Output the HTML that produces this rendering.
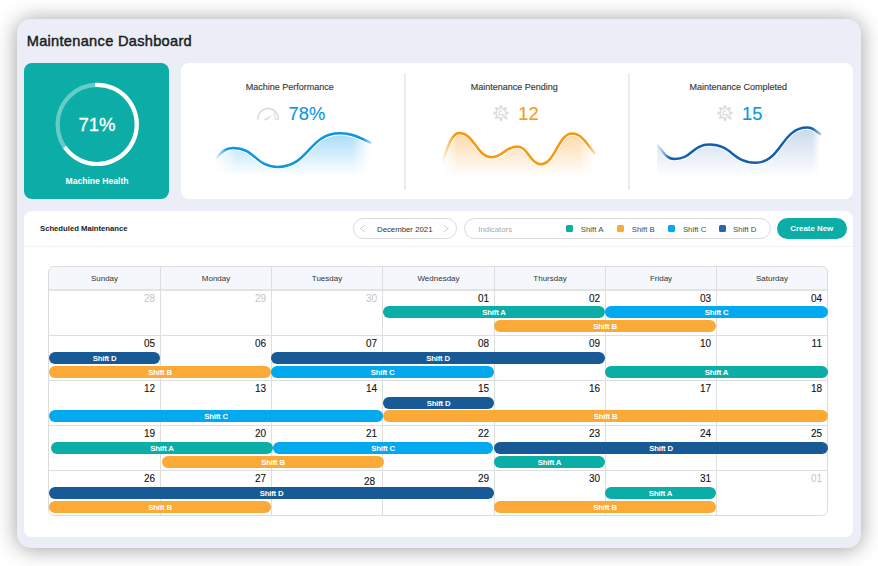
<!DOCTYPE html>
<html><head><meta charset="utf-8"><title>Maintenance Dashboard</title>
<style>
*{box-sizing:border-box;margin:0;padding:0}
html,body{width:878px;height:566px;overflow:hidden;background:#fff}
body{position:relative;font-family:"Liberation Sans",sans-serif;color:#222}
.a{position:absolute}
.outer{left:17px;top:19px;width:844px;height:529px;background:#ebeef7;border-radius:14px;box-shadow:0 1px 21px rgba(0,0,0,.39)}
.title{left:26.7px;top:33px;font-size:14.6px;line-height:17px;letter-spacing:.3px;font-weight:normal;-webkit-text-stroke:.45px #1c1c1c;color:#1c1c1c;white-space:nowrap}
.health{left:24px;top:63px;width:145px;height:136px;background:#0bada6;border-radius:8px}
.stats{left:181px;top:63px;width:672px;height:136px;background:#fff;border-radius:8px}
.dv{top:73px;width:1.5px;height:117px;background:#ececec}
.st{font-size:9px;line-height:11px;color:#3a3a3a;-webkit-text-stroke:.15px #3a3a3a;white-space:nowrap;text-align:center;width:224px;top:82px}
.num{font-size:18.3px;line-height:20px;white-space:nowrap;top:103.5px}
.cal{left:24px;top:211px;width:829px;height:326px;background:#fff;border-radius:8px}
.sm{left:40px;top:223.5px;font-size:7.7px;line-height:9px;font-weight:bold;color:#222;white-space:nowrap}
.pill{border:1px solid #d9d9d9;border-radius:11px;height:20.5px;top:218.2px;background:#fff}
.sep{left:24px;top:245.6px;width:829px;height:1.4px;background:#f4f4f4}
.lg{font-size:7.8px;line-height:9px;color:#4a4a4a;white-space:nowrap;top:224.5px}
.sq{width:7.3px;height:7.3px;top:224.7px;border-radius:1.5px}.sq.D{background:#2468b0}
.btn{left:777px;top:218px;width:69.5px;height:21px;background:#0bada6;border-radius:11px;color:#fff;font-weight:bold;font-size:7.9px;text-align:center;line-height:21px;white-space:nowrap}
.grid{border:1px solid #dcdcdc;border-radius:6px}
.hd{background:#f4f7fc;border-radius:6px 6px 0 0}
.vl{width:1px;background:#dedede}
.hl{height:1px;background:#dedede}
.dn{font-size:8px;line-height:9px;color:#353535;text-align:center;width:111.26px;top:274.3px;white-space:nowrap}
.d{font-size:10px;line-height:11px;color:#111;-webkit-text-stroke:0.1px #111;text-align:right;width:100px;white-space:nowrap}
.d.g{color:#c3c3c3;-webkit-text-stroke:0}
.bar{height:12px;border-radius:6px;color:#fff;font-weight:bold;font-size:7.8px;letter-spacing:-.2px;text-align:center;line-height:13.6px;white-space:nowrap;overflow:hidden}
.A{background:#0baea7}.B{background:#fbaa38}.C{background:#03a9ee}.D{background:#175a96}
</style></head><body>
<div class="a outer"></div>
<div class="a title">Maintenance Dashboard</div>
<div class="a health"></div>
<svg class="a" style="left:0;top:0" width="878" height="566" viewBox="0 0 878 566">
<circle cx="97.2" cy="124.4" r="39.6" fill="none" stroke="rgba(255,255,255,.38)" stroke-width="4.2"/>
<path d="M95.13,84.85 A39.6,39.6 0 1 1 64.76,147.11" fill="none" stroke="#fff" stroke-width="4.2"/>
</svg>
<div class="a" style="left:57px;top:115px;width:80px;text-align:center;color:#fff;font-size:18.6px;line-height:20px;white-space:nowrap;-webkit-text-stroke:.3px #fff">71%</div>
<div class="a" style="left:46px;top:175.5px;width:102px;text-align:center;color:#fff;font-size:8.6px;line-height:10px;font-weight:bold;white-space:nowrap">Machine Health</div>
<div class="a stats"></div>
<div class="a dv" style="left:404.2px"></div>
<div class="a dv" style="left:628.2px"></div>
<div class="a st" style="left:177.7px">Machine Performance</div>
<div class="a st" style="left:402.2px">Maintenance Pending</div>
<div class="a st" style="left:626.2px">Maintenance Completed</div>
<div class="a num" style="left:288.6px;color:#0d97df;-webkit-text-stroke:.15px #0d97df">78%</div>
<div class="a num" style="left:518.3px;color:#f59d14;-webkit-text-stroke:.15px #f59d14">12</div>
<div class="a num" style="left:742px;color:#0d97df;-webkit-text-stroke:.15px #0d97df">15</div>
<svg class="a" style="left:0;top:0" width="878" height="566" viewBox="0 0 878 566"><defs>
<linearGradient id="c1v" gradientUnits="userSpaceOnUse" x1="0" y1="133.2" x2="0" y2="176"><stop offset="0" stop-color="#86cdf4" stop-opacity="0.72"/><stop offset=".55" stop-color="#86cdf4" stop-opacity="0.32"/><stop offset="1" stop-color="#86cdf4" stop-opacity="0"/></linearGradient>
<linearGradient id="c1h" gradientUnits="userSpaceOnUse" x1="215" y1="0" x2="370.4" y2="0"><stop offset="0" stop-color="#fff" stop-opacity="0"/><stop offset="0.14" stop-color="#fff" stop-opacity="1"/><stop offset="0.88" stop-color="#fff" stop-opacity="1"/><stop offset="1" stop-color="#fff" stop-opacity="0"/></linearGradient>
<mask id="c1m" maskUnits="userSpaceOnUse" x="212" y="120" width="161.39999999999998" height="70"><rect x="212" y="120" width="161.39999999999998" height="70" fill="url(#c1h)"/></mask>
<linearGradient id="c1l" gradientUnits="userSpaceOnUse" x1="215" y1="0" x2="370.4" y2="0"><stop offset="0" stop-color="#fff" stop-opacity="0"/><stop offset=".08" stop-color="#fff" stop-opacity="1"/><stop offset=".95" stop-color="#fff" stop-opacity="1"/><stop offset="1" stop-color="#fff" stop-opacity=".35"/></linearGradient>
<mask id="c1k" maskUnits="userSpaceOnUse" x="212" y="120" width="161.39999999999998" height="70"><rect x="212" y="120" width="161.39999999999998" height="70" fill="url(#c1l)"/></mask>
<linearGradient id="c2v" gradientUnits="userSpaceOnUse" x1="0" y1="132.9" x2="0" y2="177"><stop offset="0" stop-color="#fbcf93" stop-opacity="0.8"/><stop offset=".55" stop-color="#fbcf93" stop-opacity="0.36"/><stop offset="1" stop-color="#fbcf93" stop-opacity="0"/></linearGradient>
<linearGradient id="c2h" gradientUnits="userSpaceOnUse" x1="442" y1="0" x2="594.4" y2="0"><stop offset="0" stop-color="#fff" stop-opacity="0"/><stop offset="0.1" stop-color="#fff" stop-opacity="1"/><stop offset="0.9" stop-color="#fff" stop-opacity="1"/><stop offset="1" stop-color="#fff" stop-opacity="0"/></linearGradient>
<mask id="c2m" maskUnits="userSpaceOnUse" x="439" y="120" width="158.39999999999998" height="70"><rect x="439" y="120" width="158.39999999999998" height="70" fill="url(#c2h)"/></mask>
<linearGradient id="c2l" gradientUnits="userSpaceOnUse" x1="442" y1="0" x2="594.4" y2="0"><stop offset="0" stop-color="#fff" stop-opacity="0"/><stop offset=".08" stop-color="#fff" stop-opacity="1"/><stop offset=".95" stop-color="#fff" stop-opacity="1"/><stop offset="1" stop-color="#fff" stop-opacity=".35"/></linearGradient>
<mask id="c2k" maskUnits="userSpaceOnUse" x="439" y="120" width="158.39999999999998" height="70"><rect x="439" y="120" width="158.39999999999998" height="70" fill="url(#c2l)"/></mask>
<linearGradient id="c3v" gradientUnits="userSpaceOnUse" x1="0" y1="127.6" x2="0" y2="177"><stop offset="0" stop-color="#b3cae3" stop-opacity="0.72"/><stop offset=".55" stop-color="#b3cae3" stop-opacity="0.32"/><stop offset="1" stop-color="#b3cae3" stop-opacity="0"/></linearGradient>
<linearGradient id="c3h" gradientUnits="userSpaceOnUse" x1="657.2" y1="0" x2="820.2" y2="0"><stop offset="0" stop-color="#fff" stop-opacity="1"/><stop offset="0.0" stop-color="#fff" stop-opacity="1"/><stop offset="0.95" stop-color="#fff" stop-opacity="1"/><stop offset="1" stop-color="#fff" stop-opacity="0"/></linearGradient>
<mask id="c3m" maskUnits="userSpaceOnUse" x="654.2" y="120" width="169.0" height="70"><rect x="654.2" y="120" width="169.0" height="70" fill="url(#c3h)"/></mask>
<linearGradient id="c3l" gradientUnits="userSpaceOnUse" x1="657.2" y1="0" x2="820.2" y2="0"><stop offset="0" stop-color="#fff" stop-opacity="0"/><stop offset=".08" stop-color="#fff" stop-opacity="1"/><stop offset=".95" stop-color="#fff" stop-opacity="1"/><stop offset="1" stop-color="#fff" stop-opacity=".35"/></linearGradient>
<mask id="c3k" maskUnits="userSpaceOnUse" x="654.2" y="120" width="169.0" height="70"><rect x="654.2" y="120" width="169.0" height="70" fill="url(#c3l)"/></mask>
</defs>
<path d="M215,158.9 C220.37,153.95 223.95,147.9 232.9,147.9 C255.25,147.9 255.25,166.9 277.6,166.9 C308.8,166.9 308.8,133.2 340,133.2 C355.2,133.2 361.28,139.25 370.4,142.5 L370.4,178 L215,178 Z" fill="url(#c1v)" mask="url(#c1m)"/>
<path d="M215,158.9 C220.37,153.95 223.95,147.9 232.9,147.9 C255.25,147.9 255.25,166.9 277.6,166.9 C308.8,166.9 308.8,133.2 340,133.2 C355.2,133.2 361.28,139.25 370.4,142.5" fill="none" stroke="#fff" stroke-width="4.4" mask="url(#c1k)"/>
<path d="M215,158.9 C220.37,153.95 223.95,147.9 232.9,147.9 C255.25,147.9 255.25,166.9 277.6,166.9 C308.8,166.9 308.8,133.2 340,133.2 C355.2,133.2 361.28,139.25 370.4,142.5" fill="none" stroke="#0b96df" stroke-width="2.5" stroke-linecap="round" mask="url(#c1k)"/>
<path d="M442,162.9 C446.64,149.4 451.46,132.9 459.2,132.9 C473.78,132.9 477.02,157.3 491.6,157.3 C503.03,157.3 505.57,146.4 517,146.4 C527.75,146.4 530.14,164.2 540.9,164.2 C554.99,164.2 558.12,133.6 572.2,133.6 C582.19,133.6 588.41,146.15 594.4,152.9 L594.4,179 L442,179 Z" fill="url(#c2v)" mask="url(#c2m)"/>
<path d="M442,162.9 C446.64,149.4 451.46,132.9 459.2,132.9 C473.78,132.9 477.02,157.3 491.6,157.3 C503.03,157.3 505.57,146.4 517,146.4 C527.75,146.4 530.14,164.2 540.9,164.2 C554.99,164.2 558.12,133.6 572.2,133.6 C582.19,133.6 588.41,146.15 594.4,152.9" fill="none" stroke="#fff" stroke-width="4.4" mask="url(#c2k)"/>
<path d="M442,162.9 C446.64,149.4 451.46,132.9 459.2,132.9 C473.78,132.9 477.02,157.3 491.6,157.3 C503.03,157.3 505.57,146.4 517,146.4 C527.75,146.4 530.14,164.2 540.9,164.2 C554.99,164.2 558.12,133.6 572.2,133.6 C582.19,133.6 588.41,146.15 594.4,152.9" fill="none" stroke="#f7990c" stroke-width="2.5" stroke-linecap="round" mask="url(#c2k)"/>
<path d="M657.2,144.2 C662.42,150.86 665.9,159 674.6,159 C692.05,159 692.05,144.6 709.5,144.6 C732.45,144.6 732.45,162.8 755.4,162.8 C781.3,162.8 781.3,127.6 807.2,127.6 C813.7,127.6 816.3,131.76 820.2,134 L820.2,179 L657.2,179 Z" fill="url(#c3v)" mask="url(#c3m)"/>
<path d="M657.2,144.2 C662.42,150.86 665.9,159 674.6,159 C692.05,159 692.05,144.6 709.5,144.6 C732.45,144.6 732.45,162.8 755.4,162.8 C781.3,162.8 781.3,127.6 807.2,127.6 C813.7,127.6 816.3,131.76 820.2,134" fill="none" stroke="#fff" stroke-width="4.4" mask="url(#c3k)"/>
<path d="M657.2,144.2 C662.42,150.86 665.9,159 674.6,159 C692.05,159 692.05,144.6 709.5,144.6 C732.45,144.6 732.45,162.8 755.4,162.8 C781.3,162.8 781.3,127.6 807.2,127.6 C813.7,127.6 816.3,131.76 820.2,134" fill="none" stroke="#135fab" stroke-width="2.5" stroke-linecap="round" mask="url(#c3k)"/>
</svg>
<svg class="a" style="left:256px;top:106.8px" width="25" height="15" viewBox="0 0 25 15">
<g fill="none" stroke="#e0e0e0" stroke-width="1.8">
<path d="M1.84,12.7 A10.3,10.3 0 1 1 22.36,12.7"/>
<path d="M19.99,5.18 L17.85,6.98 A7.5,7.5 0 0 1 19.57,12.45 L22.36,12.7" stroke-width="1.3"/>
</g>
<path d="M8.3,12.2 L9.5,13.4 L15.4,9.4 L15,9 Z" fill="#e0e0e0" stroke="#e0e0e0" stroke-width=".8" stroke-linejoin="round"/>
</svg>
<svg class="a" style="left:492px;top:103.6px" width="18" height="18" viewBox="-9 -9 18 18">
<g fill="#dedede"><circle cx="0.00" cy="-6.40" r="1.55"/><circle cx="4.53" cy="-4.53" r="1.55"/><circle cx="6.40" cy="-0.00" r="1.55"/><circle cx="4.53" cy="4.53" r="1.55"/><circle cx="0.00" cy="6.40" r="1.55"/><circle cx="-4.53" cy="4.53" r="1.55"/><circle cx="-6.40" cy="0.00" r="1.55"/><circle cx="-4.53" cy="-4.53" r="1.55"/></g>
<path d="M2.30,4.33 A4.9,4.9 0 1 1 4.33,2.30" fill="none" stroke="#dedede" stroke-width="1.5"/>
<path d="M1.2,-1.9 A2.1,2.1 0 1 0 1.9,0.8" fill="none" stroke="#dedede" stroke-width="1.4"/>
<path d="M1.3,1.3 L6,6" stroke="#dedede" stroke-width="1.7" stroke-linecap="round"/>
</svg>
<svg class="a" style="left:716px;top:103.6px" width="18" height="18" viewBox="-9 -9 18 18">
<g fill="#dedede"><circle cx="0.00" cy="-6.40" r="1.55"/><circle cx="4.53" cy="-4.53" r="1.55"/><circle cx="6.40" cy="-0.00" r="1.55"/><circle cx="4.53" cy="4.53" r="1.55"/><circle cx="0.00" cy="6.40" r="1.55"/><circle cx="-4.53" cy="4.53" r="1.55"/><circle cx="-6.40" cy="0.00" r="1.55"/><circle cx="-4.53" cy="-4.53" r="1.55"/></g>
<path d="M2.30,4.33 A4.9,4.9 0 1 1 4.33,2.30" fill="none" stroke="#dedede" stroke-width="1.5"/>
<path d="M1.2,-1.9 A2.1,2.1 0 1 0 1.9,0.8" fill="none" stroke="#dedede" stroke-width="1.4"/>
<path d="M1.3,1.3 L6,6" stroke="#dedede" stroke-width="1.7" stroke-linecap="round"/>
</svg>
<div class="a cal"></div>
<div class="a sep"></div>
<div class="a sm">Scheduled Maintenance</div>
<div class="a pill" style="left:353px;width:103.6px"></div>
<svg class="a" style="left:358px;top:223px" width="95" height="12" viewBox="0 0 95 12"><path d="M7,2.2 L2.3,5.6 L7,9 M85.6,2.2 L90.3,5.6 L85.6,9" fill="none" stroke="#cfcfcf" stroke-width="1"/></svg>
<div class="a lg" style="left:377px;color:#333">December 2021</div>
<div class="a pill" style="left:463.9px;width:307px"></div>
<div class="a lg" style="left:478.3px;color:#aaa">Indicators</div>
<div class="a sq A" style="left:565.5px"></div>
<div class="a lg" style="left:580.8px">Shift A</div>
<div class="a sq B" style="left:616.5px"></div>
<div class="a lg" style="left:631.8px">Shift B</div>
<div class="a sq C" style="left:667.5px"></div>
<div class="a lg" style="left:682.9px">Shift C</div>
<div class="a sq D" style="left:718.6px"></div>
<div class="a lg" style="left:733.1px">Shift D</div>
<div class="a btn">Create New</div>
<div class="a hd" style="left:48.5px;top:266px;width:779px;height:24px"></div>
<div class="a dn" style="left:48.9px">Sunday</div>
<div class="a dn" style="left:160.4px">Monday</div>
<div class="a dn" style="left:271.4px">Tuesday</div>
<div class="a dn" style="left:382.9px">Wednesday</div>
<div class="a dn" style="left:494.4px">Thursday</div>
<div class="a dn" style="left:605.4px">Friday</div>
<div class="a dn" style="left:716.4px">Saturday</div>
<div class="a hl" style="left:48px;top:289px;width:780px;height:2px;background:#e3e3e3"></div>
<div class="a hl" style="left:48px;top:335px;width:780px"></div>
<div class="a hl" style="left:48px;top:380px;width:780px"></div>
<div class="a hl" style="left:48px;top:425px;width:780px"></div>
<div class="a hl" style="left:48px;top:470px;width:780px"></div>
<div class="a vl" style="left:160px;top:266px;height:249px"></div>
<div class="a vl" style="left:271px;top:266px;height:249px"></div>
<div class="a vl" style="left:382px;top:266px;height:249px"></div>
<div class="a vl" style="left:494px;top:266px;height:249px"></div>
<div class="a vl" style="left:605px;top:266px;height:249px"></div>
<div class="a vl" style="left:716px;top:266px;height:249px"></div>
<div class="a grid" style="left:48px;top:266px;width:780px;height:250px"></div>
<div class="a d g" style="left:55px;top:292.6px">28</div>
<div class="a d g" style="left:166px;top:292.6px">29</div>
<div class="a d g" style="left:277px;top:292.6px">30</div>
<div class="a d" style="left:389px;top:292.6px">01</div>
<div class="a d" style="left:500px;top:292.6px">02</div>
<div class="a d" style="left:611px;top:292.6px">03</div>
<div class="a d" style="left:722px;top:292.6px">04</div>
<div class="a d" style="left:55px;top:337.6px">05</div>
<div class="a d" style="left:166px;top:337.6px">06</div>
<div class="a d" style="left:277px;top:337.6px">07</div>
<div class="a d" style="left:389px;top:337.6px">08</div>
<div class="a d" style="left:500px;top:337.6px">09</div>
<div class="a d" style="left:611px;top:337.6px">10</div>
<div class="a d" style="left:722px;top:337.6px">11</div>
<div class="a d" style="left:55px;top:382.6px">12</div>
<div class="a d" style="left:166px;top:382.6px">13</div>
<div class="a d" style="left:277px;top:382.6px">14</div>
<div class="a d" style="left:389px;top:382.6px">15</div>
<div class="a d" style="left:500px;top:382.6px">16</div>
<div class="a d" style="left:611px;top:382.6px">17</div>
<div class="a d" style="left:722px;top:382.6px">18</div>
<div class="a d" style="left:55px;top:427.6px">19</div>
<div class="a d" style="left:166px;top:427.6px">20</div>
<div class="a d" style="left:277px;top:427.6px">21</div>
<div class="a d" style="left:389px;top:427.6px">22</div>
<div class="a d" style="left:500px;top:427.6px">23</div>
<div class="a d" style="left:611px;top:427.6px">24</div>
<div class="a d" style="left:722px;top:427.6px">25</div>
<div class="a d" style="left:55px;top:472.6px">26</div>
<div class="a d" style="left:166px;top:472.6px">27</div>
<div class="a d" style="left:275px;top:475.6px">28</div>
<div class="a d" style="left:389px;top:472.6px">29</div>
<div class="a d" style="left:500px;top:472.6px">30</div>
<div class="a d" style="left:611px;top:472.6px">31</div>
<div class="a d g" style="left:722px;top:472.6px">01</div>
<div class="a bar A" style="left:383px;top:306px;width:222px">Shift A</div>
<div class="a bar C" style="left:605px;top:306px;width:223px">Shift C</div>
<div class="a bar B" style="left:494px;top:320px;width:222px">Shift B</div>
<div class="a bar D" style="left:49px;top:352px;width:111px">Shift D</div>
<div class="a bar B" style="left:49px;top:366px;width:222px">Shift B</div>
<div class="a bar D" style="left:271px;top:352px;width:334px">Shift D</div>
<div class="a bar C" style="left:271px;top:366px;width:223px">Shift C</div>
<div class="a bar A" style="left:605px;top:366px;width:223px">Shift A</div>
<div class="a bar D" style="left:383px;top:397px;width:111px">Shift D</div>
<div class="a bar C" style="left:49px;top:410px;width:334px">Shift C</div>
<div class="a bar B" style="left:383px;top:410px;width:445px">Shift B</div>
<div class="a bar A" style="left:51px;top:442px;width:222px">Shift A</div>
<div class="a bar C" style="left:273px;top:442px;width:220px">Shift C</div>
<div class="a bar D" style="left:494px;top:442px;width:334px">Shift D</div>
<div class="a bar B" style="left:162px;top:456px;width:222px">Shift B</div>
<div class="a bar A" style="left:494px;top:456px;width:111px">Shift A</div>
<div class="a bar D" style="left:49px;top:487px;width:445px">Shift D</div>
<div class="a bar A" style="left:605px;top:487px;width:111px">Shift A</div>
<div class="a bar B" style="left:49px;top:501px;width:222px">Shift B</div>
<div class="a bar B" style="left:494px;top:501px;width:222px">Shift B</div>
</body></html>
